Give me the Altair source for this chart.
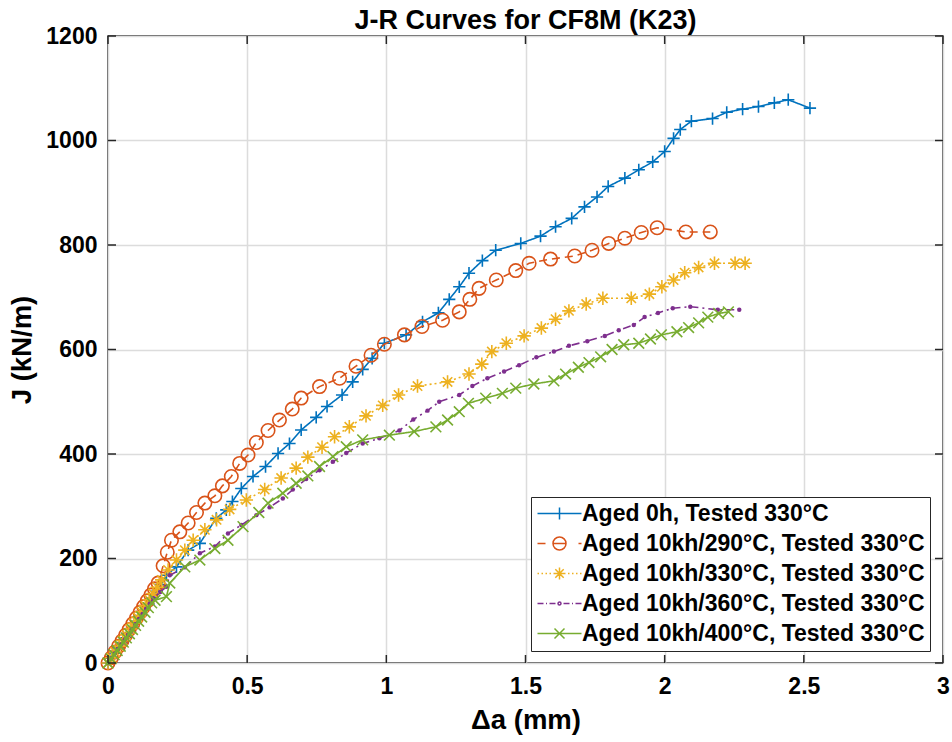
import altair as alt
import pandas as pd

names = [
    "Aged 0h, Tested 330°C",
    "Aged 10kh/290°C, Tested 330°C",
    "Aged 10kh/330°C, Tested 330°C",
    "Aged 10kh/360°C, Tested 330°C",
    "Aged 10kh/400°C, Tested 330°C",
]
colors = ["#0072BD", "#D95319", "#EDB120", "#7E2F8E", "#77AC30"]

x_ticks = [0, 0.5, 1, 1.5, 2, 2.5, 3]
y_ticks = [0, 200, 400, 600, 800, 1000, 1200]

# Aged 0h
a0_x = [0, 0.012, 0.025, 0.037, 0.05, 0.063, 0.076, 0.09, 0.104, 0.118, 0.132, 0.146, 0.16, 0.175,
        0.19, 0.21, 0.246, 0.288, 0.33, 0.389, 0.425, 0.447, 0.479, 0.521, 0.566, 0.611, 0.652,
        0.694, 0.748, 0.787, 0.841, 0.879, 0.915, 0.949, 0.993, 1.071, 1.130, 1.187, 1.226, 1.262,
        1.297, 1.345, 1.393, 1.483, 1.554, 1.608, 1.666, 1.712, 1.757, 1.797, 1.857, 1.907, 1.957,
        2.0, 2.032, 2.056, 2.096, 2.172, 2.223, 2.280, 2.337, 2.394, 2.444, 2.522]
a0_j = [0, 9, 19, 29, 38, 48, 58, 69, 80, 91, 102, 113, 125, 137,
        150, 168, 184, 216, 229, 277, 293, 309, 334, 357, 376, 401, 420,
        446, 470, 491, 513, 538, 562, 583, 612, 628, 653, 670, 696, 720,
        746, 770, 790, 803, 817, 835, 851, 873, 892, 912, 928, 944, 959,
        979, 1004, 1021, 1037, 1042, 1054, 1060, 1065, 1072, 1078, 1062]

# Aged 10kh/290C
a290_x = [0, 0.012, 0.025, 0.038, 0.05, 0.063, 0.076, 0.089, 0.102, 0.115, 0.128, 0.141, 0.154,
          0.167, 0.18, 0.198, 0.213, 0.228, 0.258, 0.288, 0.318, 0.348, 0.384, 0.411, 0.443, 0.473,
          0.503, 0.533, 0.575, 0.616, 0.662, 0.694, 0.760, 0.832, 0.891, 0.945, 0.993, 1.065, 1.128,
          1.202, 1.262, 1.300, 1.333, 1.395, 1.465, 1.513, 1.590, 1.677, 1.739, 1.799, 1.857, 1.916,
          1.973, 2.076, 2.164]
a290_j = [0, 10, 21, 32, 42, 53, 64, 75, 86, 97, 108, 119, 130,
          142, 153, 186, 212, 235, 251, 268, 288, 306, 320, 339, 357, 382,
          398, 422, 445, 465, 486, 507, 529, 545, 568, 589, 610, 628, 644,
          656, 672, 696, 717, 733, 751, 765, 773, 779, 790, 803, 813, 824,
          833, 825, 825]

# Aged 10kh/330C
a330_x = [0, 0.013, 0.026, 0.04, 0.053, 0.066, 0.08, 0.093, 0.107, 0.12, 0.134, 0.148, 0.162,
          0.177, 0.193, 0.216, 0.246, 0.276, 0.306, 0.348, 0.390, 0.437, 0.497, 0.563, 0.622, 0.676,
          0.718, 0.769, 0.814, 0.867, 0.927, 0.987, 1.044, 1.112, 1.220, 1.297, 1.343, 1.379, 1.431,
          1.495, 1.557, 1.608, 1.656, 1.718, 1.778, 1.880, 1.945, 1.990, 2.032, 2.072, 2.122, 2.179,
          2.253, 2.289]
a330_j = [0, 10, 21, 32, 43, 54, 65, 76, 87, 98, 110, 121, 133,
          145, 159, 178, 197, 216, 235, 255, 274, 294, 312, 332, 354, 373,
          394, 413, 433, 452, 473, 493, 513, 530, 538, 553, 572, 596, 612,
          626, 641, 658, 674, 687, 698, 698, 706, 720, 733, 747, 757, 765,
          765, 765]

# Aged 10kh/360C
a360_x = [0, 0.012, 0.024, 0.036, 0.048, 0.06, 0.072, 0.085, 0.098, 0.111, 0.124, 0.137, 0.15,
          0.163, 0.188, 0.210, 0.222, 0.276, 0.330, 0.384, 0.431, 0.479, 0.533, 0.581, 0.628, 0.664,
          0.712, 0.760, 0.808, 0.856, 0.915, 0.975, 1.047, 1.097, 1.148, 1.190, 1.262, 1.309, 1.363,
          1.423, 1.477, 1.539, 1.602, 1.656, 1.722, 1.785, 1.835, 1.889, 1.928, 1.976, 2.029, 2.092,
          2.191, 2.268]
a360_j = [0, 9, 18, 27, 36, 45, 54, 64, 74, 84, 94, 104, 114,
          124, 136, 146, 168, 183, 210, 223, 248, 264, 283, 298, 315, 332,
          352, 369, 385, 402, 420, 430, 445, 466, 483, 500, 513, 530, 545,
          558, 570, 585, 596, 607, 616, 626, 637, 647, 662, 670, 679, 682,
          676, 676]

# Aged 10kh/400C
a400_x = [0, 0.011, 0.022, 0.033, 0.044, 0.055, 0.066, 0.077, 0.088, 0.099, 0.11, 0.121, 0.133,
          0.145, 0.157, 0.169, 0.210, 0.222, 0.276, 0.330, 0.384, 0.431, 0.485, 0.542, 0.575, 0.628,
          0.676, 0.718, 0.760, 0.808, 0.856, 0.915, 1.011, 1.100, 1.178, 1.220, 1.262, 1.295, 1.357,
          1.417, 1.465, 1.530, 1.602, 1.644, 1.690, 1.728, 1.770, 1.811, 1.853, 1.907, 1.949, 1.988,
          2.044, 2.086, 2.122, 2.155, 2.194, 2.229]
a400_j = [0, 8, 16, 24, 32, 40, 48, 56, 64, 72, 80, 88, 97,
          106, 115, 120, 127, 153, 184, 197, 219, 235, 261, 288, 306, 325,
          344, 358, 376, 395, 414, 427, 436, 443, 452, 465, 481, 497, 507,
          516, 526, 534, 540, 553, 566, 575, 586, 600, 609, 612, 620, 628,
          634, 642, 651, 662, 669, 672]

series_x = [a0_x, a290_x, a330_x, a360_x, a400_x]
series_j = [a0_j, a290_j, a330_j, a360_j, a400_j]

rows = []
for nm, xs, js in zip(names, series_x, series_j):
    for k, (xv, jv) in enumerate(zip(xs, js)):
        rows.append({"series": nm, "da": xv, "J": jv, "order": k})
df = pd.DataFrame(rows)

FONT = "Liberation Sans"
W, H = 835, 627

xscale = alt.Scale(domain=[0, 3], nice=False, zero=False)
yscale = alt.Scale(domain=[0, 1200], nice=False, zero=False)

x_axis = alt.Axis(values=x_ticks, format=".1~f", grid=True, ticks=False, domain=False,
                  labelFlush=False, labelPadding=12, titleY=65, titleBaseline="alphabetic")
y_axis = alt.Axis(values=y_ticks, format="d", grid=True, ticks=False, domain=False,
                  labelFlush=False, labelPadding=11, titleX=-78, titleBaseline="alphabetic",
                  titleAngle=-90)

x_main = alt.X("da:Q", scale=xscale, axis=x_axis, title="Δa (mm)")
y_main = alt.Y("J:Q", scale=yscale, axis=y_axis, title="J (kN/m)")

dashes = [[1, 0], [8, 5], [2, 3], [8, 4, 2, 4], [1, 0]]
markers = [
    ("M-1,0L1,0M0,-1L0,1", 150, False),
    ("M1,0A1,1 0 1,1 -1,0A1,1 0 1,1 1,0", 180, False),
    ("M-1,0L1,0M0,-1L0,1M-0.7,-0.7L0.7,0.7M-0.7,0.7L0.7,-0.7", 180, False),
    ("circle", 20, True),
    ("M-1,-1L1,1M-1,1L1,-1", 115, False),
]

legend_paths = [
    "M-1,0L3.4,0M1.2,-0.6L1.2,0.6",
    "M-1,0L-0.2,0M0.55,0L1.85,0M3.1,0L3.4,0M1.85,0A0.65,0.65 0 1,1 0.55,0A0.65,0.65 0 1,1 1.85,0",
    "M-1,0L-0.85,0M-0.6,0L-0.45,0M-0.2,0L-0.05,0M0.2,0L0.35,0M2.05,0L2.2,0M2.45,0L2.6,0M2.85,0L3.0,0M3.25,0L3.4,0"
    "M0.6,0L1.8,0M1.2,-0.6L1.2,0.6M0.78,-0.42L1.62,0.42M0.78,0.42L1.62,-0.42",
    "M-1,0L-0.4,0M-0.15,0L-0.05,0M0.2,0L0.8,0M1.6,0L2.2,0M2.45,0L2.55,0M2.8,0L3.4,0"
    "M1.35,0A0.15,0.15 0 1,1 1.05,0A0.15,0.15 0 1,1 1.35,0",
    "M-1,0L3.4,0M0.7,-0.5L1.7,0.5M0.7,0.5L1.7,-0.5",
]

base = alt.Chart(df)
layers = []
for i, nm in enumerate(names):
    sub = base.transform_filter(alt.datum.series == nm)
    line = sub.mark_line(color=colors[i], strokeWidth=1.6, strokeDash=dashes[i]).encode(
        x=x_main, y=y_main, order="order:Q")
    shp, sz, fl = markers[i]
    pts = sub.mark_point(shape=shp, size=sz, filled=fl, color=colors[i], strokeWidth=1.6,
                         opacity=1).encode(x=x_main, y=y_main)
    layers += [line, pts]

leg = alt.Legend(title=None, orient="none", legendX=423, legendY=461, padding=5,
                 fillColor="white", strokeColor="#262626", symbolSize=400,
                 symbolStrokeWidth=1.5, symbolOpacity=1, labelOffset=23,
                 labelFont=FONT, labelFontWeight="bold", labelFontSize=23, labelColor="black",
                 labelLimit=600, rowPadding=6, labelBaseline="middle")

first_pts = df[df["order"] == 0]
legend_layer = alt.Chart(first_pts).mark_point(opacity=0, filled=False, strokeWidth=1.5, size=400).encode(
    x=x_main,
    y=y_main,
    color=alt.Color("series:N", scale=alt.Scale(domain=names, range=colors), legend=leg),
    shape=alt.Shape("series:N", scale=alt.Scale(domain=names, range=legend_paths), legend=leg),
)

xt = pd.DataFrame({"da": x_ticks})
yt = pd.DataFrame({"J": y_ticks})
tick_col = "#262626"
xb = alt.Chart(xt).mark_rule(color=tick_col, strokeWidth=1.5).encode(
    x=x_main, y=alt.value(H), y2=alt.value(H - 8))
xtp = alt.Chart(xt).mark_rule(color=tick_col, strokeWidth=1.5).encode(
    x=x_main, y=alt.value(0), y2=alt.value(8))
yl = alt.Chart(yt).mark_rule(color=tick_col, strokeWidth=1.5).encode(
    y=y_main, x=alt.value(0), x2=alt.value(8))
yr = alt.Chart(yt).mark_rule(color=tick_col, strokeWidth=1.5).encode(
    y=y_main, x=alt.value(W), x2=alt.value(W - 8))

chart = alt.layer(*layers, legend_layer, xb, xtp, yl, yr).properties(
    width=W, height=H,
    background="white",
    title=alt.TitleParams("J-R Curves for CF8M (K23)", font=FONT, fontSize=27, fontWeight="bold",
                          color="black", anchor="middle", frame="group", offset=-31,
                          baseline="alphabetic"),
    autosize=alt.AutoSizeParams(type="none"),
    padding={"left": 108, "top": 36, "right": 9, "bottom": 79},
).configure_view(
    stroke="#262626", strokeWidth=1.5
).configure_axis(
    labelFont=FONT, labelFontWeight="bold", labelFontSize=23, labelColor="black",
    titleFont=FONT, titleFontWeight="bold", titleFontSize=27.5, titleColor="black",
    gridColor="#dcdcdc", gridWidth=1.5
)

chart.save("out.html", embed_options={"renderer": "svg", "actions": False})
